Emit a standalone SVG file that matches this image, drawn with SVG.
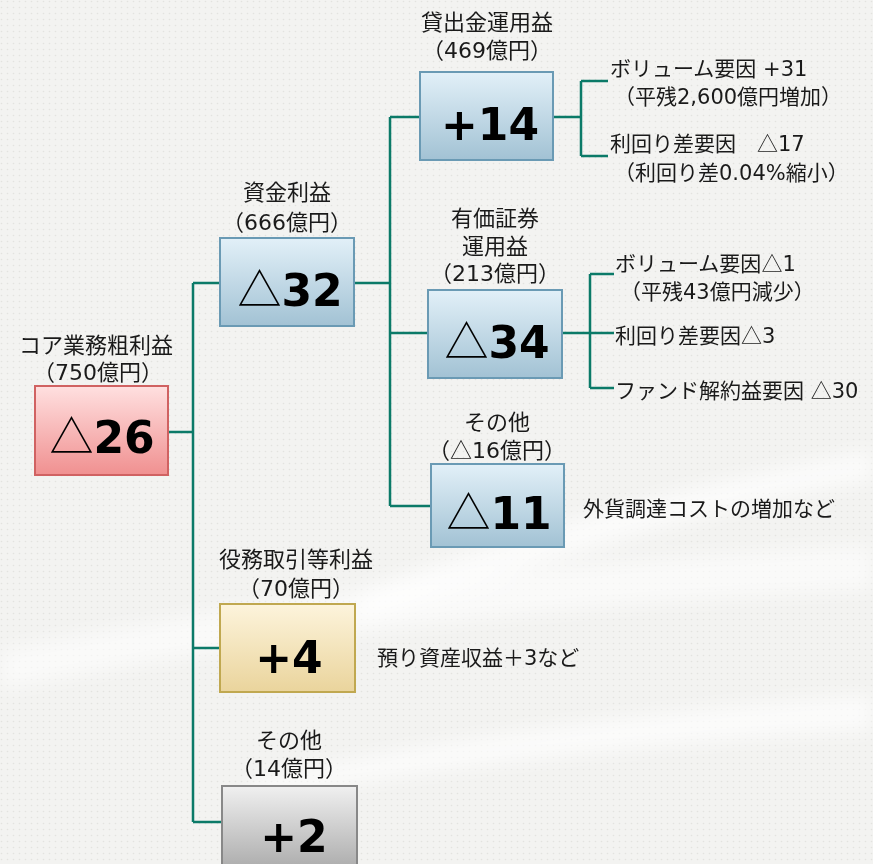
<svg xmlns="http://www.w3.org/2000/svg" width="873" height="864" viewBox="0 0 873 864">
<defs>
<pattern id="dots" width="6" height="6" patternUnits="userSpaceOnUse">
<rect width="6" height="6" fill="#f3f3f1"/>
<circle cx="1.5" cy="1.5" r="0.8" fill="#e3e3df"/>
</pattern>
<filter id="soft" x="-10%" y="-50%" width="120%" height="200%"><feGaussianBlur stdDeviation="10"/></filter>
<linearGradient id="gPink" x1="0" y1="0" x2="0" y2="1"><stop offset="0" stop-color="#ffe0e0"/><stop offset="1" stop-color="#f09090"/></linearGradient>
<linearGradient id="gBlue" x1="0" y1="0" x2="0" y2="1"><stop offset="0" stop-color="#e2f0f8"/><stop offset="1" stop-color="#a2c2d4"/></linearGradient>
<linearGradient id="gYel" x1="0" y1="0" x2="0" y2="1"><stop offset="0" stop-color="#fdf4dc"/><stop offset="1" stop-color="#ead49c"/></linearGradient>
<linearGradient id="gGray" x1="0" y1="0" x2="0" y2="1"><stop offset="0" stop-color="#f0f0f0"/><stop offset="1" stop-color="#a8a8a8"/></linearGradient>
<style>
.lbl{font-family:"DejaVu Sans","Noto Sans CJK JP",sans-serif;font-size:21px;fill:#1a1a1a}
.c{text-anchor:middle;font-size:22px}
.big{font-family:"DejaVu Sans",sans-serif;font-weight:bold;font-size:44px;fill:#000;text-anchor:middle}
.tri{font-family:"Noto Sans CJK JP",sans-serif;font-weight:400}
.ln{fill:none;stroke:#0b7a68;stroke-width:2.5}
.bx{stroke-width:2}
</style>
</defs>
<rect width="873" height="864" fill="url(#dots)"/>
<g fill="#ffffff" filter="url(#soft)">
<path d="M360 590 C520 530 700 480 873 450 L873 480 C700 510 520 570 360 620 Z" opacity="0.7"/>
<path d="M0 650 C250 600 550 560 873 545 L873 590 C550 605 250 640 0 690 Z" opacity="0.6"/>
<path d="M250 780 C480 730 700 705 873 695 L873 730 C700 740 480 760 250 800 Z" opacity="0.7"/>
</g>
<g id="connectors">
<path class="ln" d="M168 432 H193 M193 283 V822 M193 283 H220 M193 648 H220 M193 822 H222"/>
<path class="ln" d="M354 283 H390 M390 117 V506 M390 117 H420 M390 333 H428 M390 506 H431"/>
<path class="ln" d="M553 117 H581 M581 81 V156 M581 81 H608 M581 156 H608"/>
<path class="ln" d="M562 333 H614 M590 274 V388 M590 274 H614 M590 388 H614"/>
</g>
<g id="core">
<text class="lbl c" x="96" y="353">コア業務粗利益</text>
<text class="lbl c" x="98" y="380">（750億円）</text>
<rect class="bx" x="35" y="386" width="133" height="89" fill="url(#gPink)" stroke="#d06262"/>
<text class="big" x="102" y="453"><tspan class="tri">△</tspan>26</text>
</g>
<g id="shikin">
<text class="lbl c" x="287" y="200">資金利益</text>
<text class="lbl c" x="287" y="230">（666億円）</text>
<rect class="bx" x="220" y="238" width="134" height="88" fill="url(#gBlue)" stroke="#6a9ab4"/>
<text class="big" x="290" y="306"><tspan class="tri">△</tspan>32</text>
</g>
<g id="kashidashi">
<text class="lbl c" x="487" y="30">貸出金運用益</text>
<text class="lbl c" x="487" y="58">（469億円）</text>
<rect class="bx" x="420" y="72" width="133" height="88" fill="url(#gBlue)" stroke="#6a9ab4"/>
<text class="big" x="490" y="140">+14</text>
<text class="lbl" x="610" y="76">ボリューム要因 +31</text>
<text class="lbl" x="614" y="104">（平残2,600億円増加）</text>
<text class="lbl" x="610" y="151">利回り差要因　<tspan class="tri">△</tspan>17</text>
<text class="lbl" x="614" y="180">（利回り差0.04%縮小）</text>
</g>
<g id="yuka">
<text class="lbl c" x="495" y="226">有価証券</text>
<text class="lbl c" x="495" y="254">運用益</text>
<text class="lbl c" x="495" y="281">（213億円）</text>
<rect class="bx" x="428" y="290" width="134" height="88" fill="url(#gBlue)" stroke="#6a9ab4"/>
<text class="big" x="497" y="358"><tspan class="tri">△</tspan>34</text>
<text class="lbl" x="615" y="271">ボリューム要因<tspan class="tri">△</tspan>1</text>
<text class="lbl" x="620" y="299">（平残43億円減少）</text>
<text class="lbl" x="615" y="343">利回り差要因<tspan class="tri">△</tspan>3</text>
<text class="lbl" x="615" y="398">ファンド解約益要因 <tspan class="tri">△</tspan>30</text>
</g>
<g id="sonota1">
<text class="lbl c" x="497" y="430">その他</text>
<text class="lbl c" x="497" y="458">（<tspan class="tri">△</tspan>16億円）</text>
<rect class="bx" x="431" y="464" width="133" height="83" fill="url(#gBlue)" stroke="#6a9ab4"/>
<text class="big" x="499" y="529"><tspan class="tri">△</tspan>11</text>
<text class="lbl" x="583" y="516">外貨調達コストの増加など</text>
</g>
<g id="ekimu">
<text class="lbl c" x="296" y="567">役務取引等利益</text>
<text class="lbl c" x="296" y="596">（70億円）</text>
<rect class="bx" x="220" y="604" width="135" height="88" fill="url(#gYel)" stroke="#c0a850"/>
<text class="big" x="289" y="673">+4</text>
<text class="lbl" x="377" y="665">預り資産収益＋3など</text>
</g>
<g id="sonota2">
<text class="lbl c" x="289" y="748">その他</text>
<text class="lbl c" x="289" y="776">（14億円）</text>
<rect class="bx" x="222" y="786" width="135" height="88" fill="url(#gGray)" stroke="#888888"/>
<text class="big" x="294" y="852">+2</text>
</g>
</svg>
